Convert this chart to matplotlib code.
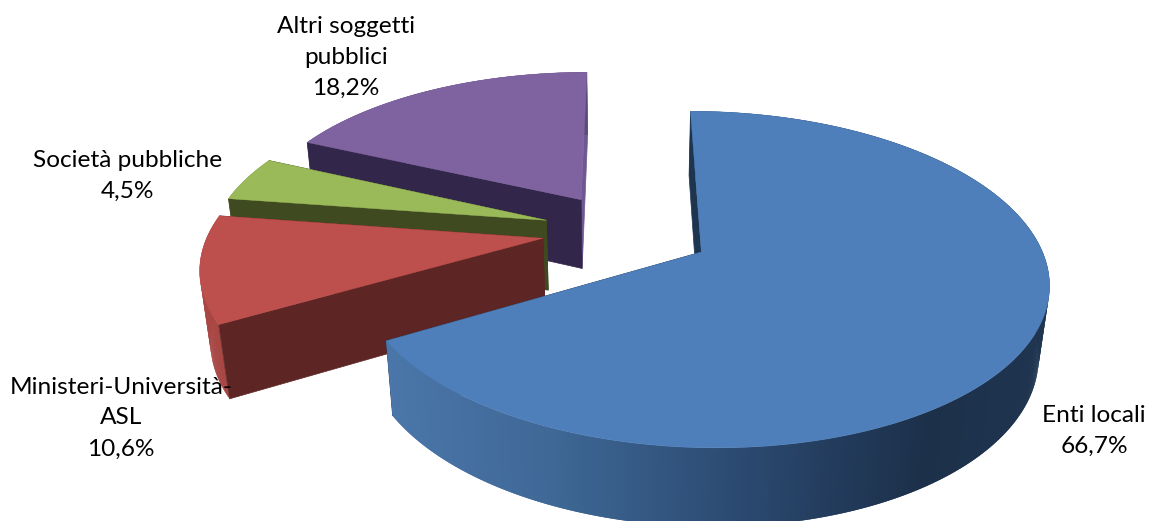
import numpy as np
import matplotlib
matplotlib.use('Agg')
import matplotlib.pyplot as plt

labels = ['Enti locali', 'Ministeri-Università-\nASL', 'Società pubbliche', 'Altri soggetti\npubblici']
values = [66.7, 10.6, 4.5, 18.2]
value_labels = ['66,7%', '10,6%', '4,5%', '18,2%']

top_colors = ['#4f7fba', '#bd4f4c', '#9aba59', '#7f63a1']
wall_colors = ['#1e3550', '#5d2624', '#404a20', '#32274a']
end_wall_colors = ['#1e3550', '#5d2624', '#404a20', '#6f5792']
rim_stops = [
    ['#4a76a9', '#3f6896', '#2f5079', '#223a5a', '#1c3049', '#1f3550'],
    ['#a84744'] * 6,
    ['#6f8a3f'] * 6,
    ['#5f4a7c'] * 6,
]
rim_x = [385, 550, 700, 850, 930, 1050]
label_xy = [(1094, 431), (121, 418), (128, 176), (346, 57)]

# pie geometry, hand tuned against the picture
cx, cy = 624, 231
R, A, H = 334, 157, 72
k, m = 0.16, 0.025
start = 0.0
explode = [0.262, 0.245, 0.245, 0.245]


def project(x, y, z=0.0):
    w = 1 + k*y + m*z
    return cx + R*x/w, cy + (-A*y + H*z)/w


def wall(ox, oy, x, y, col, zo):
    px, py = project(np.array([ox, x, x, ox]), np.array([oy, y, y, oy]), np.array([0, 0, 1, 1]))
    ax.fill(px, py, color=col, lw=0.5, zorder=zo)


fig = plt.figure(figsize=(11.49, 5.21), dpi=100)
ax = fig.add_axes([0, 0, 1, 1])
ax.set_xlim(0, 1149)
ax.set_ylim(521, 0)
ax.axis('off')

edges = start + np.cumsum([0] + values)*360/sum(values)
for i in [3, 2, 1, 0]:
    t0, t1 = edges[i], edges[i+1]
    mid = np.radians((t0+t1)/2)
    ox, oy = explode[i]*np.sin(mid), explode[i]*np.cos(mid)
    th = np.radians(np.linspace(t0, t1, int((t1-t0)*2)+2))
    xs = ox + np.sin(th)
    ys = oy + np.cos(th)
    base = i*-10

    wall(ox, oy, xs[-1], ys[-1], end_wall_colors[i], base)

    # curved rim, coloured by screen x, each strip overlaps the next so no seams
    tx, ty = project(xs, ys, 0)
    bx, by = project(xs, ys, 1)
    rim_rgb = np.array([matplotlib.colors.to_rgb(c) for c in rim_stops[i]])
    for n in range(len(th)-1):
        e = min(n+2, len(th)-1)
        c = [np.interp((tx[n]+tx[n+1])/2, rim_x, rim_rgb[:, q]) for q in range(3)]
        ax.fill([tx[n], tx[e], bx[e], bx[n]], [ty[n], ty[e], by[e], by[n]], color=c, lw=0, zorder=base+1)

    wall(ox, oy, xs[0], ys[0], wall_colors[i], base+2)

    # top face
    ax0, ay0 = project(ox, oy, 0)
    ax.fill(np.r_[ax0, tx], np.r_[ay0, ty], color=top_colors[i], lw=0.3, zorder=base+3)

for lab, val, (lx, ly) in zip(labels, value_labels, label_xy):
    ax.text(lx, ly, lab + '\n' + val, ha='center', va='center', fontsize=17.6, family='Lato', color='black', linespacing=1.58, zorder=10)

fig.savefig('out.png', dpi=100)
